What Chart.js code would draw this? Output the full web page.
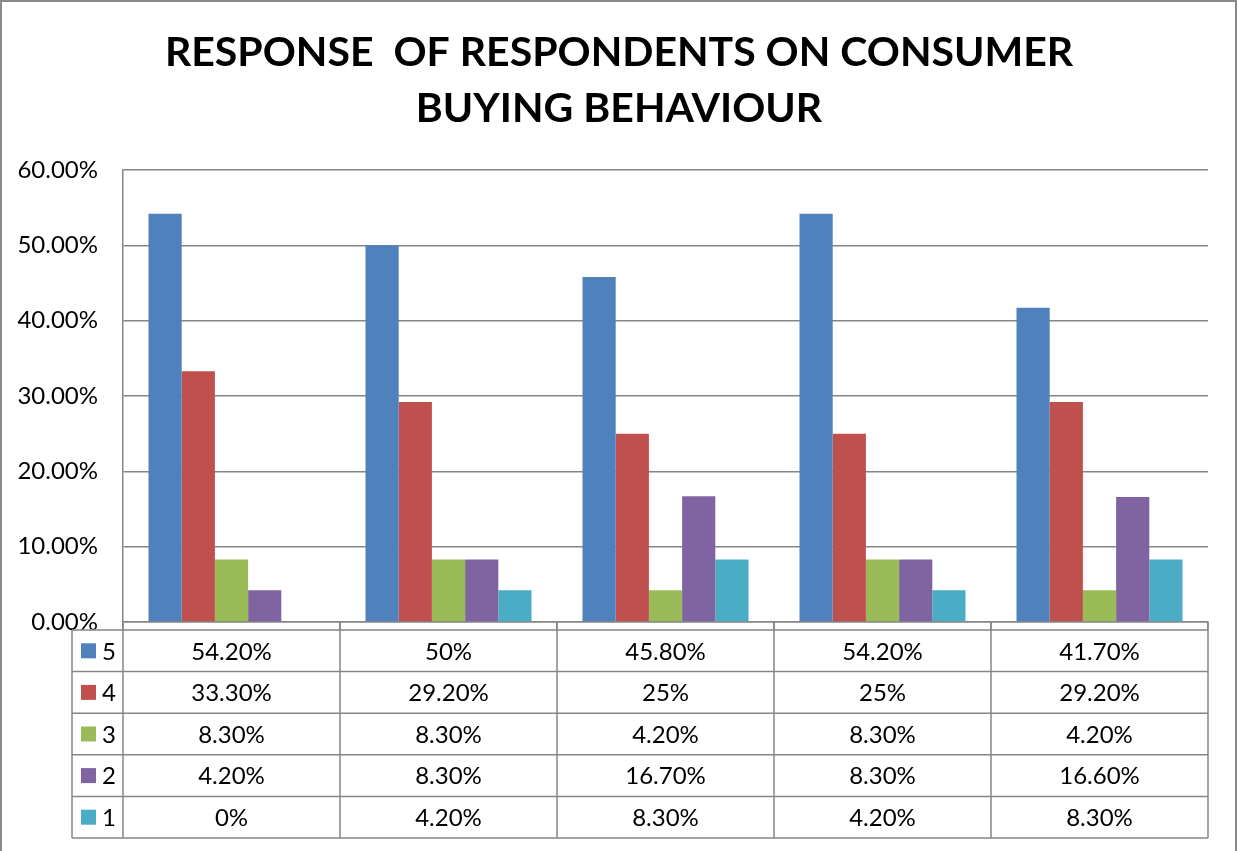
<!DOCTYPE html>
<html>
<head>
<meta charset="utf-8">
<script src="https://cdn.jsdelivr.net/npm/chart.js@4/dist/chart.umd.min.js"></script>
<style>
html,body{margin:0;padding:0;background:#fff;}
#wrap{width:1238px;height:851px;position:relative;}
</style>
</head>
<body>
<div id="wrap"><canvas id="c" width="1238" height="851"></canvas></div>
<script>
const titleLines = ['RESPONSE  OF RESPONDENTS ON CONSUMER', 'BUYING BEHAVIOUR'];
const categories = ['', '', '', '', ''];
const seriesNames = ['5', '4', '3', '2', '1'];
const s5 = [54.2, 50, 45.8, 54.2, 41.7];
const s4 = [33.3, 29.2, 25, 25, 29.2];
const s3 = [8.3, 8.3, 4.2, 8.3, 4.2];
const s2 = [4.2, 8.3, 16.7, 8.3, 16.6];
const s1 = [0, 4.2, 8.3, 4.2, 8.3];
const seriesColors = ['#4F81BD', '#C0504D', '#9BBB59', '#8064A2', '#4BACC6'];
const yTicks = [0, 10, 20, 30, 40, 50, 60];

const allSeries = [s5, s4, s3, s2, s1];
const FONT = 'Lato, "Liberation Sans", sans-serif';
const GRID = '#868686';

function fmtPct(v) {
  return Number.isInteger(v) ? v + '%' : v.toFixed(2) + '%';
}

const tablePlugin = {
  id: 'tablePlugin',
  afterDraw(chart) {
    const ctx = chart.ctx;
    const x = chart.scales.x;
    const area = chart.chartArea;
    const tableTop = area.bottom + 8;
    const rowH = 41.6;
    const legLeft = 72;
    const n = categories.length;
    const step = (area.right - area.left) / n;
    ctx.save();
    ctx.strokeStyle = GRID;
    ctx.lineWidth = 1.5;
    for (let r = 0; r <= seriesNames.length; r++) {
      const y = tableTop + r * rowH;
      ctx.beginPath();
      ctx.moveTo(legLeft, y);
      ctx.lineTo(area.right, y);
      ctx.stroke();
    }
    const bottom = tableTop + seriesNames.length * rowH;
    ctx.beginPath();
    ctx.moveTo(legLeft, tableTop); ctx.lineTo(legLeft, bottom); ctx.stroke();
    for (let i = 0; i <= n; i++) {
      const xx = area.left + i * step;
      ctx.beginPath();
      ctx.moveTo(xx, area.bottom);
      ctx.lineTo(xx, bottom);
      ctx.stroke();
    }
    ctx.fillStyle = '#000';
    ctx.font = '24px ' + FONT;
    ctx.textBaseline = 'middle';
    for (let r = 0; r < seriesNames.length; r++) {
      const cy = tableTop + r * rowH + rowH / 2;
      ctx.fillStyle = seriesColors[r];
      ctx.fillRect(81, cy - 7.5, 15, 15);
      ctx.fillStyle = '#000';
      ctx.textAlign = 'left';
      ctx.fillText(seriesNames[r], 102, cy + 1);
      ctx.textAlign = 'center';
      for (let i = 0; i < n; i++) {
        ctx.fillText(fmtPct(allSeries[r][i]), x.getPixelForValue(i), cy + 1);
      }
    }
    ctx.strokeStyle = '#8a8a8a';
    ctx.lineWidth = 2;
    ctx.strokeRect(1, 1, 1235, 900);
    ctx.fillStyle = '#000';
    ctx.font = 'bold 41px ' + FONT;
    ctx.textAlign = 'center';
    ctx.textBaseline = 'middle';
    ctx.fillText(titleLines[0], 619, 53);
    ctx.fillText(titleLines[1], 619, 109);
    ctx.restore();
  }
};

new Chart(document.getElementById('c'), {
  type: 'bar',
  data: {
    labels: categories,
    datasets: seriesNames.map((name, i) => ({
      label: name,
      data: allSeries[i],
      backgroundColor: seriesColors[i],
      borderWidth: 0,
      categoryPercentage: 0.765,
      barPercentage: 1.0
    }))
  },
  options: {
    responsive: false,
    animation: false,
    devicePixelRatio: 1,
    layout: { padding: { top: 170, left: 0, right: 30, bottom: 221 } },
    plugins: {
      legend: { display: false },
      title: { display: false },
      tooltip: { enabled: false }
    },
    scales: {
      x: {
        offset: true,
        ticks: { display: false },
        grid: { display: true, offset: true, drawOnChartArea: false, drawTicks: true, tickLength: 8, color: GRID, lineWidth: 1.5 },
        border: { display: true, color: GRID, width: 1.5 },
        afterFit(s) { s.height = 8; }
      },
      y: {
        min: 0,
        max: 60,
        afterBuildTicks(s) { s.ticks = yTicks.map(v => ({ value: v })); },
        ticks: {
          callback: v => v.toFixed(2) + '%',
          font: { family: FONT, size: 24 },
          color: '#000',
          padding: 25
        },
        grid: { color: GRID, lineWidth: 1.5, drawTicks: false },
        border: { display: true, color: GRID, width: 1.5 },
        afterFit(s) { s.width = 123; }
      }
    }
  },
  plugins: [tablePlugin]
});
</script>
</body>
</html>
